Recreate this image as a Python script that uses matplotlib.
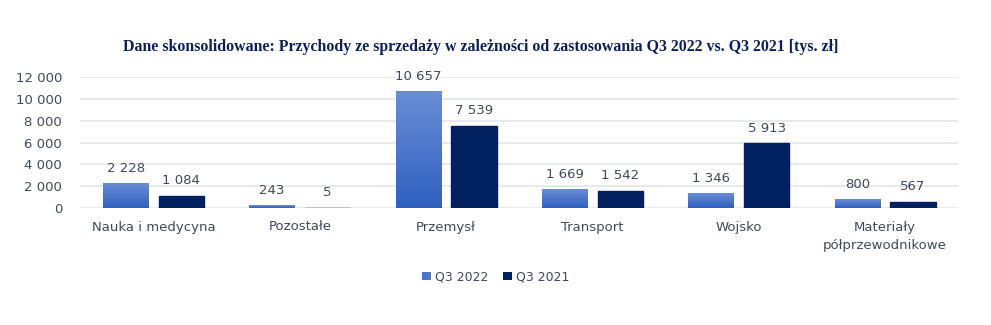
import numpy as np
import matplotlib.pyplot as plt
from matplotlib.colors import LinearSegmentedColormap
from matplotlib.patches import Patch

categories = ["Nauka i medycyna", "Pozostałe", "Przemysł", "Transport", "Wojsko",
              "Materiały\npółprzewodnikowe"]
q3_2022 = [2228, 243, 10657, 1669, 1346, 800]
q3_2021 = [1084, 5, 7539, 1542, 5913, 567]
labels_2022 = ["2 228", "243", "10 657", "1 669", "1 346", "800"]
labels_2021 = ["1 084", "5", "7 539", "1 542", "5 913", "567"]
yticks = [0, 2000, 4000, 6000, 8000, 10000, 12000]

TEXT = "#404a5a"
DARK = "#002060"
grad = LinearSegmentedColormap.from_list("g", ["#2f5fc0", "#6a8ed6"])

fig = plt.figure(figsize=(9.91, 3.25), dpi=100)
ax = fig.add_axes([0.081, 0.36, 0.886, 0.403])

x = np.arange(len(categories))
w = 0.31
gap = 0.07
bars = ax.bar(x - w / 2 - gap / 2, q3_2022, w, color="none", edgecolor="none")
ax.bar(x + w / 2 + gap / 2, q3_2021, w, color=DARK, edgecolor=DARK, linewidth=1, zorder=3)

# gradient fill for the light bars
g = np.linspace(0, 1, 256).reshape(-1, 1)
for b in bars:
    x0, y0 = b.get_x(), b.get_y()
    ax.imshow(g, cmap=grad, origin="lower", aspect="auto",
              extent=[x0, x0 + b.get_width(), y0, y0 + b.get_height()], zorder=3)

for xi, v, s in zip(x - w / 2 - gap / 2, q3_2022, labels_2022):
    ax.text(xi, v + 800, s, ha="center", va="bottom", fontsize=9.5, color=TEXT)
for xi, v, s in zip(x + w / 2 + gap / 2, q3_2021, labels_2021):
    ax.text(xi, v + 800, s, ha="center", va="bottom", fontsize=9.5, color=TEXT)

ax.set_xlim(-0.5, len(categories) - 0.5)
ax.set_ylim(0, 12000)
ax.set_yticks(yticks)
ax.set_yticklabels([f"{t:,}".replace(",", " ") for t in yticks])
ax.set_xticks(x)
ax.set_xticklabels(categories, linespacing=1.6)
ax.tick_params(axis="both", length=0, labelsize=9.5, colors=TEXT)
ax.tick_params(axis="x", pad=9)
ax.tick_params(axis="y", pad=13)
ax.grid(axis="y", color="#e3e5ea", linewidth=1.2, zorder=0)
ax.set_axisbelow(True)
for sp in ax.spines.values():
    sp.set_visible(False)

fig.text(0.485, 0.855, "Dane skonsolidowane: Przychody ze sprzedaży w zależności od zastosowania Q3 2022 vs. Q3 2021 [tys. zł]",
         ha="center", va="center", fontsize=11.4, fontweight="bold", color="#0c1f5c",
         family="Liberation Serif")

handles = [Patch(facecolor="#4a78d0"), Patch(facecolor=DARK)]
fig.legend(handles, ["Q3 2022", "Q3 2021"], loc="center", bbox_to_anchor=(0.5, 0.148),
           ncol=2, frameon=False, fontsize=9, labelcolor=TEXT,
           handlelength=0.7, handleheight=0.7, handletextpad=0.3, columnspacing=1.2)

fig.savefig("out.png", dpi=100)
